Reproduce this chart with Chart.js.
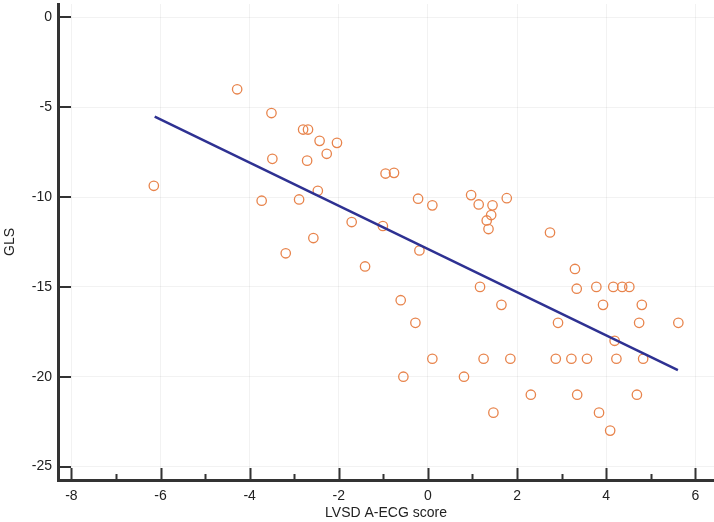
<!DOCTYPE html>
<html>
<head>
<meta charset="utf-8">
<script src="https://cdn.jsdelivr.net/npm/chart.js@4.4.1/dist/chart.umd.min.js"></script>
<style>
  html, body { margin: 0; padding: 0; background: #fff; }
  #wrap { width: 714px; height: 522px; position: relative; }
</style>
</head>
<body>
<div id="wrap"><canvas id="glsChart"></canvas></div>
<script>
// --- data ---
const lvsdScore = [
  -6.15, -4.28, -3.51, -2.80, -2.69, -2.43, -2.04, -2.27, -3.49, -2.71,
  -0.95, -0.76, -0.22, 0.10, -3.73, -2.89, -2.47, -1.71, -1.01, -2.57,
  -3.19, -0.19, -1.41, -0.61, -0.28, 0.10, -0.55, 0.97, 1.14, 1.45,
  1.77, 1.42, 1.32, 1.36, 2.74, 3.30, 3.34, 3.78, 4.16, 4.36,
  4.52, 1.17, 1.65, 3.93, 4.80, 2.92, 4.74, 5.62, 4.19, 1.25,
  1.85, 2.87, 3.22, 3.57, 4.23, 4.83, 0.81, 2.31, 3.35, 4.69,
  1.47, 3.84, 4.09
];
const glsValues = [
  -9.37, -4.0, -5.32, -6.24, -6.24, -6.87, -6.98, -7.59, -7.87, -7.97,
  -8.69, -8.65, -10.09, -10.46, -10.2, -10.13, -9.65, -11.39, -11.61, -12.28,
  -13.13, -12.97, -13.86, -15.74, -17.0, -19.0, -20.0, -9.89, -10.41, -10.46,
  -10.06, -11.0, -11.3, -11.78, -11.97, -14.0, -15.1, -15.0, -15.0, -15.0,
  -15.0, -15.0, -16.0, -16.0, -16.0, -17.0, -17.0, -17.0, -18.0, -19.0,
  -19.0, -19.0, -19.0, -19.0, -19.0, -19.0, -20.0, -21.0, -21.0, -21.0,
  -22.0, -22.0, -23.0
];
const fitX = [-6.13, 5.61];
const fitY = [-5.52, -19.63];

const xTickValues = [-8, -6, -4, -2, 0, 2, 4, 6];
const xMinorTickValues = [-7, -5, -3, -1, 1, 3, 5];
const yTickValues = [-25, -20, -15, -10, -5, 0];

const AXIS_COLOR = "#333333";
const TEXT_COLOR = "#222222";
const FONT_FAMILY = "'Liberation Sans', Arial, Helvetica, sans-serif";

// ticks point inward on this chart, so they are drawn here instead of by the scales
const inwardTicks = {
  id: "inwardTicks",
  afterDatasetsDraw(chart) {
    const { ctx, chartArea, scales } = chart;
    ctx.save();
    ctx.strokeStyle = AXIS_COLOR;
    ctx.lineWidth = 2;
    ctx.beginPath();
    xTickValues.forEach(v => {
      const px = Math.round(scales.x.getPixelForValue(v)) + 0.5;
      ctx.moveTo(px, chartArea.bottom);
      ctx.lineTo(px, chartArea.bottom - 12);
    });
    xMinorTickValues.forEach(v => {
      const px = Math.round(scales.x.getPixelForValue(v)) + 0.5;
      ctx.moveTo(px, chartArea.bottom);
      ctx.lineTo(px, chartArea.bottom - 6);
    });
    yTickValues.forEach(v => {
      const py = Math.round(scales.y.getPixelForValue(v));
      ctx.moveTo(chartArea.left, py);
      ctx.lineTo(chartArea.left + 13, py);
    });
    ctx.stroke();
    ctx.restore();
  }
};

const canvas = document.getElementById("glsChart");
new Chart(canvas.getContext("2d"), {
  type: "scatter",
  data: {
    datasets: [
      {
        label: "GLS",
        data: lvsdScore.map((x, i) => ({ x: x, y: glsValues[i] })),
        pointStyle: "circle",
        pointRadius: 4.7,
        pointBorderWidth: 1.3,
        borderColor: "#e8844c",
        backgroundColor: "rgba(0,0,0,0)",
        showLine: false,
        order: 2
      },
      {
        label: "Linear fit",
        data: fitX.map((x, i) => ({ x: x, y: fitY[i] })),
        showLine: true,
        borderColor: "#2e3192",
        borderWidth: 2.5,
        pointRadius: 0,
        order: 1
      }
    ]
  },
  options: {
    responsive: true,
    maintainAspectRatio: false,
    animation: false,
    layout: { autoPadding: false, padding: { top: 4, right: 0, left: 0, bottom: 0 } },
    plugins: {
      legend: { display: false },
      tooltip: { enabled: false }
    },
    scales: {
      x: {
        type: "linear",
        min: -8.3,
        max: 6.42,
        afterBuildTicks: s => { s.ticks = xTickValues.map(v => ({ value: v })); },
        afterFit: s => { s.height = 42; s.paddingLeft = 0; s.paddingRight = 0; },
        grid: { color: "rgba(0,0,0,0.05)", drawTicks: false },
        border: { display: true, color: AXIS_COLOR, width: 3 },
        ticks: {
          color: TEXT_COLOR,
          padding: 8,
          font: { family: FONT_FAMILY, size: 14 },
          maxRotation: 0
        },
        title: {
          display: true,
          text: "LVSD A-ECG score",
          color: TEXT_COLOR,
          font: { family: FONT_FAMILY, size: 14 },
          padding: { top: 2, bottom: 0 }
        }
      },
      y: {
        type: "linear",
        min: -25.75,
        max: 0.75,
        afterBuildTicks: s => { s.ticks = yTickValues.map(v => ({ value: v })); },
        afterFit: s => { s.width = 58; s.paddingTop = 0; s.paddingBottom = 0; },
        grid: { color: "rgba(0,0,0,0.05)", drawTicks: false },
        border: { display: true, color: AXIS_COLOR, width: 3 },
        ticks: {
          color: TEXT_COLOR,
          padding: 6,
          font: { family: FONT_FAMILY, size: 14 }
        },
        title: {
          display: true,
          text: "GLS",
          color: TEXT_COLOR,
          font: { family: FONT_FAMILY, size: 14 },
          padding: { top: 2, bottom: 0 }
        }
      }
    }
  },
  plugins: [inwardTicks]
});
</script>
</body>
</html>
